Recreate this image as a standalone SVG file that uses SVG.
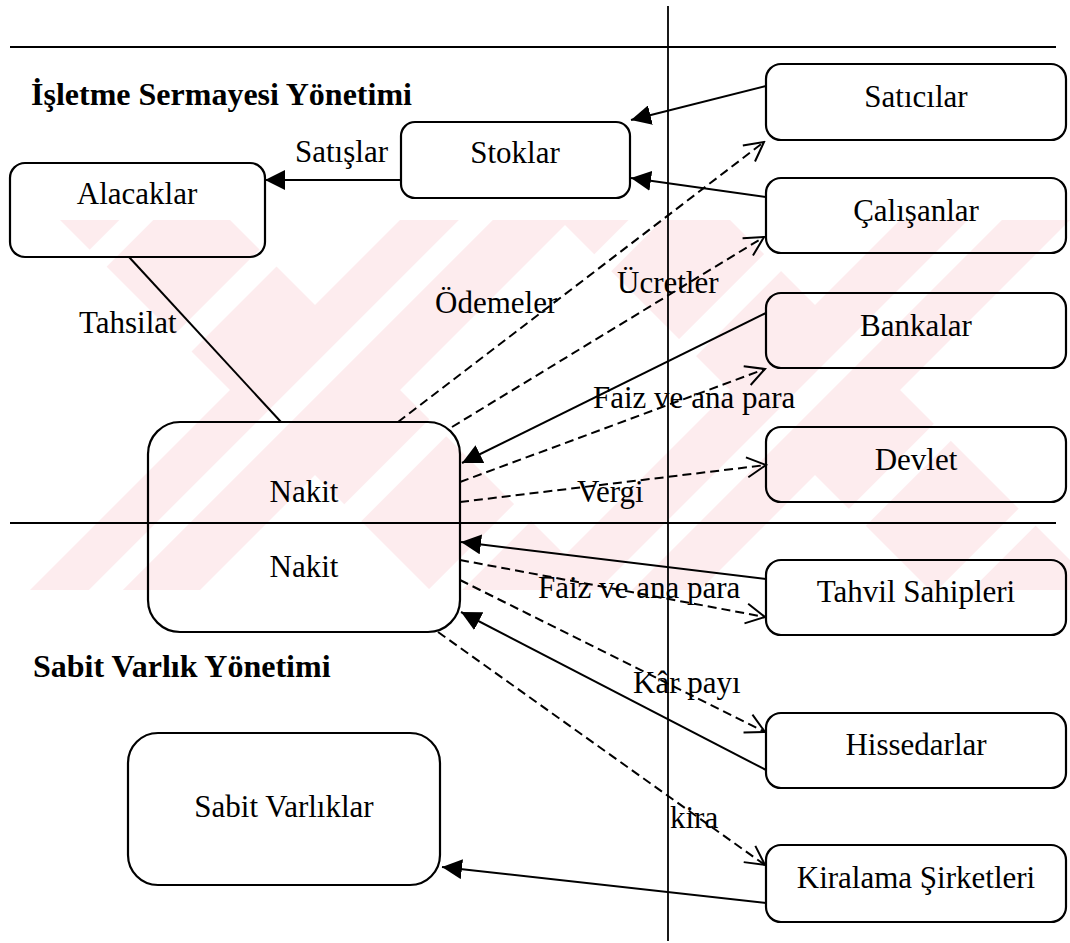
<svg xmlns="http://www.w3.org/2000/svg" width="1070" height="943" viewBox="0 0 1070 943">
  <style>
    .box { fill: none; stroke: #000; stroke-width: 2.2; }
    .rule { stroke: #000; stroke-width: 1.8; fill: none; }
    .solid { stroke: #000; stroke-width: 2; fill: none; }
    .dash { stroke: #000; stroke-width: 2; fill: none; stroke-dasharray: 9 5; }
    text { font-family: "Liberation Serif", "DejaVu Serif", "Noto Serif", serif; fill: #000; }
    .lbl { font-size: 31px; }
    .mid { text-anchor: middle; }
    .title { font-size: 32px; font-weight: bold; }
  </style>
  <defs>
    <marker id="arrowFilled" viewBox="0 0 20 20" refX="20" refY="10" markerWidth="20" markerHeight="20" markerUnits="userSpaceOnUse" orient="auto">
      <path d="M0,0 L20,10 L0,20 z" fill="#000"/>
    </marker>
    <marker id="arrowOpen" viewBox="-2 -2 24 24" refX="20" refY="10" markerWidth="24" markerHeight="24" markerUnits="userSpaceOnUse" orient="auto">
      <path d="M1,0 L20,10 L1,20" fill="none" stroke="#000" stroke-width="2"/>
    </marker>
    <pattern id="stripes" width="120" height="120" patternUnits="userSpaceOnUse" patternTransform="rotate(45)">
      <rect width="120" height="120" fill="#fdecee"/>
      <rect width="24" height="120" fill="#fff"/>
    </pattern>
    <clipPath id="markBand">
      <rect x="0" y="220" width="1070" height="370"/>
    </clipPath>
  </defs>

  <rect width="1070" height="943" fill="#fff"/>

  <!-- faint background mark -->
  <g id="background-mark" clip-path="url(#markBand)" fill="url(#stripes)">
    <polygon points="60,220 230,220 600,590 430,590"/>
    <polygon points="400,220 570,220 200,590 30,590"/>
    <polygon points="560,220 730,220 1100,590 930,590"/>
    <polygon points="900,220 1070,220 700,590 530,590"/>
  </g>

  <!-- section rules -->
  <g id="rules">
    <line class="rule" x1="10" y1="47" x2="1056" y2="47"/>
    <line class="rule" x1="10" y1="523" x2="1056" y2="523"/>
    <line class="rule" x1="668" y1="6" x2="668" y2="941"/>
  </g>

  <!-- section titles -->
  <text class="title" x="31" y="105">İşletme Sermayesi Yönetimi</text>
  <text class="title" x="33" y="677">Sabit Varlık Yönetimi</text>

  <!-- connectors -->
  <g id="connectors">
    <line class="solid" x1="401" y1="180" x2="265" y2="180" marker-end="url(#arrowFilled)"/>
    <line class="solid" x1="766" y1="86" x2="631" y2="120" marker-end="url(#arrowFilled)"/>
    <line class="solid" x1="766" y1="197" x2="631" y2="178" marker-end="url(#arrowFilled)"/>
    <line class="solid" x1="129" y1="257" x2="281" y2="422"/>
    <line class="dash" x1="398" y1="422" x2="764" y2="142" marker-end="url(#arrowOpen)"/>
    <line class="dash" x1="452" y1="427" x2="764" y2="237" marker-end="url(#arrowOpen)"/>
    <line class="solid" x1="766" y1="313" x2="462" y2="463" marker-end="url(#arrowFilled)"/>
    <line class="dash" x1="460" y1="482" x2="765" y2="369" marker-end="url(#arrowOpen)"/>
    <line class="dash" x1="460" y1="502" x2="766" y2="465" marker-end="url(#arrowOpen)"/>
    <line class="solid" x1="766" y1="579" x2="461" y2="542" marker-end="url(#arrowFilled)"/>
    <line class="dash" x1="460" y1="560" x2="765" y2="617" marker-end="url(#arrowOpen)"/>
    <line class="dash" x1="460" y1="580" x2="765" y2="732" marker-end="url(#arrowOpen)"/>
    <line class="solid" x1="766" y1="770" x2="461" y2="612" marker-end="url(#arrowFilled)"/>
    <line class="dash" x1="438" y1="632" x2="765" y2="865" marker-end="url(#arrowOpen)"/>
    <line class="solid" x1="766" y1="903" x2="442" y2="867" marker-end="url(#arrowFilled)"/>

    <text class="lbl" x="295" y="162">Satışlar</text>
    <text class="lbl" x="79" y="333">Tahsilat</text>
    <text class="lbl" x="435" y="313">Ödemeler</text>
    <text class="lbl" x="617" y="293">Ücretler</text>
    <text class="lbl" x="593" y="408">Faiz ve ana para</text>
    <text class="lbl" x="577" y="502">Vergi</text>
    <text class="lbl" x="538" y="598">Faiz ve ana para</text>
    <text class="lbl" x="633" y="693">Kâr payı</text>
    <text class="lbl" x="670" y="828">kira</text>
  </g>

  <!-- nodes -->
  <g id="node-alacaklar">
    <rect class="box" x="10" y="163" width="255" height="94" rx="15"/>
    <text class="lbl mid" x="137" y="204">Alacaklar</text>
  </g>
  <g id="node-stoklar">
    <rect class="box" x="401" y="122" width="229" height="76" rx="14"/>
    <text class="lbl mid" x="515" y="163">Stoklar</text>
  </g>
  <g id="node-saticilar">
    <rect class="box" x="766" y="64" width="300" height="76" rx="15"/>
    <text class="lbl mid" x="916" y="107">Satıcılar</text>
  </g>
  <g id="node-calisanlar">
    <rect class="box" x="766" y="178" width="300" height="75" rx="15"/>
    <text class="lbl mid" x="916" y="221">Çalışanlar</text>
  </g>
  <g id="node-bankalar">
    <rect class="box" x="766" y="293" width="300" height="75" rx="15"/>
    <text class="lbl mid" x="916" y="336">Bankalar</text>
  </g>
  <g id="node-devlet">
    <rect class="box" x="766" y="427" width="300" height="75" rx="15"/>
    <text class="lbl mid" x="916" y="470">Devlet</text>
  </g>
  <g id="node-nakit">
    <rect class="box" x="148" y="422" width="312" height="210" rx="32"/>
    <text class="lbl mid" x="304" y="502">Nakit</text>
    <text class="lbl mid" x="304" y="577">Nakit</text>
  </g>
  <g id="node-tahvil">
    <rect class="box" x="766" y="560" width="300" height="75" rx="15"/>
    <text class="lbl mid" x="916" y="602">Tahvil Sahipleri</text>
  </g>
  <g id="node-hissedarlar">
    <rect class="box" x="766" y="713" width="300" height="75" rx="15"/>
    <text class="lbl mid" x="916" y="755">Hissedarlar</text>
  </g>
  <g id="node-kiralama">
    <rect class="box" x="766" y="845" width="300" height="77" rx="15"/>
    <text class="lbl mid" x="916" y="888">Kiralama Şirketleri</text>
  </g>
  <g id="node-sabit">
    <rect class="box" x="128" y="733" width="312" height="152" rx="30"/>
    <text class="lbl mid" x="284" y="817">Sabit Varlıklar</text>
  </g>
</svg>
